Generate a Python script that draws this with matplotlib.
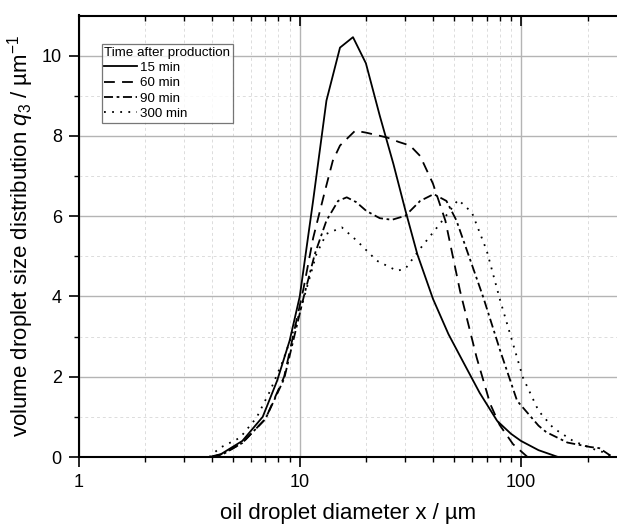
import matplotlib
matplotlib.use("Agg")
import matplotlib.pyplot as plt
from matplotlib.ticker import LogLocator, FixedLocator, NullFormatter, FixedFormatter

plt.rcParams['font.family'] = ['Liberation Sans', 'DejaVu Sans']
plt.rcParams['mathtext.fontset'] = 'custom'
plt.rcParams['mathtext.rm'] = 'Liberation Sans'
plt.rcParams['mathtext.it'] = 'Liberation Sans:italic'

# 15 min
x15 = [3.9, 4.4, 5.5, 6.8, 7.9, 9.0, 10.0, 11.5, 13.2, 15.2, 17.4, 19.9, 23, 26.5, 30, 34, 40, 47, 55, 65, 78, 90, 100, 120, 147]
y15 = [0, 0.07, 0.4, 1.0, 1.9, 2.9, 4.0, 6.4, 8.88, 10.2, 10.46, 9.81, 8.5, 7.3, 6.15, 5.05, 3.94, 3.06, 2.35, 1.6, 0.9, 0.58, 0.4, 0.17, 0]
# 60 min
x60 = [4.0, 4.5, 5.5, 7.0, 8.5, 10.4, 11.5, 13.0, 14.1, 15.2, 17.8, 20, 24.8, 28, 31.5, 35, 40, 45.5, 53, 63, 72.6, 80, 92, 107]
y60 = [0, 0.08, 0.35, 0.95, 2.0, 4.2, 5.46, 6.63, 7.38, 7.76, 8.13, 8.08, 7.96, 7.85, 7.76, 7.5, 6.81, 5.89, 4.14, 2.48, 1.32, 0.8, 0.32, 0]
# 90 min
x90 = [4.0, 4.5, 5.5, 7.0, 8.5, 10.4, 11.7, 13.2, 14.9, 16.3, 18, 20, 23, 26.1, 30, 35, 40.3, 46, 51, 57, 67.6, 80.6, 96, 120, 130, 162, 205, 226, 248, 260]
y90 = [0, 0.07, 0.35, 0.95, 1.95, 3.97, 5.06, 5.89, 6.38, 6.47, 6.35, 6.13, 5.95, 5.91, 6.01, 6.38, 6.55, 6.38, 5.9, 5.14, 3.97, 2.64, 1.40, 0.78, 0.62, 0.36, 0.25, 0.22, 0.07, 0]
# 300 min
x300 = [3.9, 4.36, 5.37, 6.38, 7.35, 8.4, 10, 11.9, 13.2, 15.5, 18.1, 22.3, 27.5, 30, 35, 43, 52, 60, 70, 80.6, 92, 102, 120, 140, 172, 212, 235, 260]
y300 = [0, 0.23, 0.48, 0.98, 1.65, 2.4, 3.6, 5.06, 5.56, 5.72, 5.39, 4.89, 4.64, 4.69, 5.19, 5.81, 6.41, 6.09, 5.14, 3.89, 2.82, 1.98, 1.15, 0.72, 0.40, 0.2, 0.12, 0]

labels = ['15 min', '60 min', '90 min', '300 min']
xticks = [1, 10, 100]
xticklabels = ['1', '10', '100']
yticks = [0, 2, 4, 6, 8, 10]

fig = plt.figure(figsize=(6.17, 5.24), dpi=100)
ax = fig.add_axes([78.5/617, (524-457)/524, 1 - 78.5/617 + 0.002, (457-15.5)/524])

lw = 1.3
ax.plot(x15, y15, color='black', lw=lw, ls='-', label=labels[0])
ax.plot(x60, y60, color='black', lw=lw, ls=(0, (6, 4)), label=labels[1])
ax.plot(x90, y90, color='black', lw=lw, ls=(0, (5, 2, 1.5, 2)), label=labels[2])
ax.plot(x300, y300, color='black', lw=lw, ls=(0, (1, 3.5)), label=labels[3])

ax.set_xscale('log')
ax.set_xlim(1, 275)
ax.set_ylim(0, 11)

ax.xaxis.set_major_locator(FixedLocator(xticks))
ax.xaxis.set_major_formatter(FixedFormatter(xticklabels))
ax.xaxis.set_minor_locator(LogLocator(base=10, subs=range(2, 10)))
ax.xaxis.set_minor_formatter(NullFormatter())
ax.yaxis.set_major_locator(FixedLocator(yticks))
ax.yaxis.set_minor_locator(FixedLocator([1, 3, 5, 7, 9]))

ax.grid(which='major', color='#b4b4b4', lw=1.0, ls='-')
ax.grid(which='minor', color='#dcdcdc', lw=0.7, ls=(0, (3, 3)))
ax.set_axisbelow(True)

ax.tick_params(axis='both', which='major', labelsize=13, length=7, width=1.2, color='black', direction='out')
ax.tick_params(axis='both', which='minor', length=3.6, width=1.0, direction='out')
ax.tick_params(axis='x', which='both', top=True, bottom=True)
ax.tick_params(axis='x', which='major', pad=5)
ax.tick_params(axis='y', which='major', pad=5)
for s in ['left', 'bottom', 'top', 'right']:
    ax.spines[s].set_linewidth(1.5)
    ax.spines[s].set_color('black')
ax.spines['right'].set_visible(False)

# top ticks point inward
for t in ax.xaxis.get_major_ticks() + ax.xaxis.get_minor_ticks():
    t.tick2line.set_marker(3)

ax.set_xlabel('oil droplet diameter x / µm', fontsize=16, labelpad=9)
ax.set_ylabel('volume droplet size distribution $q_3$ / µm$^{-1}$', fontsize=16, labelpad=4)

leg = ax.legend(title='Time after production', loc='upper left', bbox_to_anchor=(0.043, 0.935),
                fontsize=9.6, title_fontsize=9.6, frameon=True, fancybox=False, edgecolor='#555555',
                handlelength=2.45, handletextpad=0.25, borderpad=0.2, labelspacing=0.22, borderaxespad=0)
leg.get_frame().set_linewidth(0.9)
leg._legend_box.align = 'left'

fig.savefig('out.png', dpi=100)
